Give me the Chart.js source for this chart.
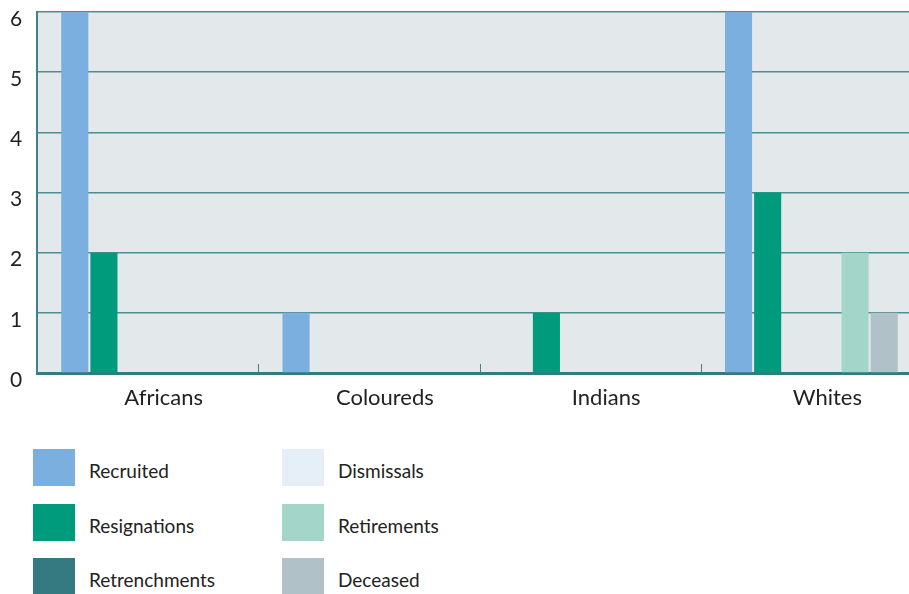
<!DOCTYPE html>
<html>
<head>
<meta charset="utf-8">
<script src="https://cdn.jsdelivr.net/npm/chart.js@4.4.1/dist/chart.umd.min.js"></script>
<style>
  html, body { margin: 0; padding: 0; background: #fff; overflow: hidden; width: 909px; height: 594px; }
  #wrap { position: absolute; left: 0; top: 0; width: 930px; height: 420px; }
  #legend { position: absolute; left: 33px; top: 449px; display: grid;
            grid-template-columns: 249px 200px; grid-auto-rows: 54.5px; grid-auto-flow: column;
            grid-template-rows: repeat(3, 54.5px); }
  .item { display: flex; align-items: center; height: 37px; font: 19px Lato, sans-serif; color: #222; }
  .box { width: 42px; height: 37px; margin-right: 14px; flex: none; }
  .item span { position: relative; top: 3px; }
</style>
</head>
<body>
<div id="wrap"><canvas id="c"></canvas></div>
<div id="legend"></div>
<script>
// categories and series
const groups = ['Africans', 'Coloureds', 'Indians', 'Whites'];
const yTicks = [0, 1, 2, 3, 4, 5, 6];

const recruited     = [6, 1, 0, 6];
const resignations  = [2, 0, 1, 3];
const retrenchments = [0, 0, 0, 0];
const dismissals    = [0, 0, 0, 0];
const retirements   = [0, 0, 0, 2];
const deceased      = [0, 0, 0, 1];

const seriesNames = ['Recruited', 'Resignations', 'Retrenchments', 'Dismissals', 'Retirements', 'Deceased'];
const seriesData = [recruited, resignations, retrenchments, dismissals, retirements, deceased];
const seriesColors = ['#7aafdf', '#009b7d', '#347a80', '#e6eef8', '#a3d5c9', '#b0c2c8'];

const TEAL = '#3f8388';

// plot background
const plotBg = {
  id: 'plotBg',
  beforeDraw(chart) {
    const { ctx, chartArea: a } = chart;
    ctx.save();
    ctx.fillStyle = '#e3e8ea';
    ctx.fillRect(a.left, a.top, a.right - a.left, a.bottom - a.top);
    ctx.restore();
  },
};

// small ticks between categories, pointing up from the axis
const groupTicks = {
  id: 'groupTicks',
  beforeDatasetsDraw(chart) {
    const { ctx, chartArea: a } = chart;
    const x = chart.scales.x;
    ctx.save();
    ctx.strokeStyle = TEAL;
    ctx.lineWidth = 1;
    for (let i = 1; i < groups.length; i++) {
      const px = Math.round((x.getPixelForValue(i - 1) + x.getPixelForValue(i)) / 2) + 0.5;
      ctx.beginPath();
      ctx.moveTo(px, a.bottom);
      ctx.lineTo(px, a.bottom - 9);
      ctx.stroke();
    }
    ctx.restore();
  },
};

const legendEl = document.getElementById('legend');
seriesNames.forEach((name, i) => {
  const d = document.createElement('div');
  d.className = 'item';
  d.innerHTML = `<div class="box" style="background:${seriesColors[i]}"></div><span>${name}</span>`;
  legendEl.appendChild(d);
});

new Chart(document.getElementById('c'), {
  type: 'bar',
  data: {
    labels: groups,
    datasets: seriesNames.map((name, i) => ({
      label: name,
      data: seriesData[i],
      backgroundColor: seriesColors[i],
      borderWidth: 0,
      categoryPercentage: 0.79,
      barPercentage: 0.93,
    })),
  },
  options: {
    responsive: true,
    maintainAspectRatio: false,
    animation: false,
    layout: { padding: { left: 10, right: 8, top: 12, bottom: 11 } },
    plugins: { legend: { display: false }, tooltip: { enabled: false } },
    scales: {
      x: {
        grid: { display: false },
        border: { display: true, color: '#357a80', width: 3 },
        ticks: { color: '#222', font: { family: 'Lato', size: 22 }, padding: 4, labelOffset: 16 },
        afterFit(scale) { scale.height = 36; scale.paddingLeft = 0; scale.paddingRight = 0; },
      },
      y: {
        min: yTicks[0],
        max: yTicks[yTicks.length - 1],
        afterBuildTicks(scale) { scale.ticks = yTicks.map(v => ({ value: v })); },
        grid: { color: '#4f8d92', lineWidth: 1.5, drawTicks: false },
        border: { display: true, color: TEAL, width: 2 },
        ticks: { color: '#222', font: { family: 'Lato', size: 21 }, padding: 15, crossAlign: 'far', labelOffset: 7 },
        afterFit(scale) { scale.width = 27; scale.paddingTop = 0; scale.paddingBottom = 0; },
      },
    },
  },
  plugins: [plotBg, groupTicks],
});
</script>
</body>
</html>
